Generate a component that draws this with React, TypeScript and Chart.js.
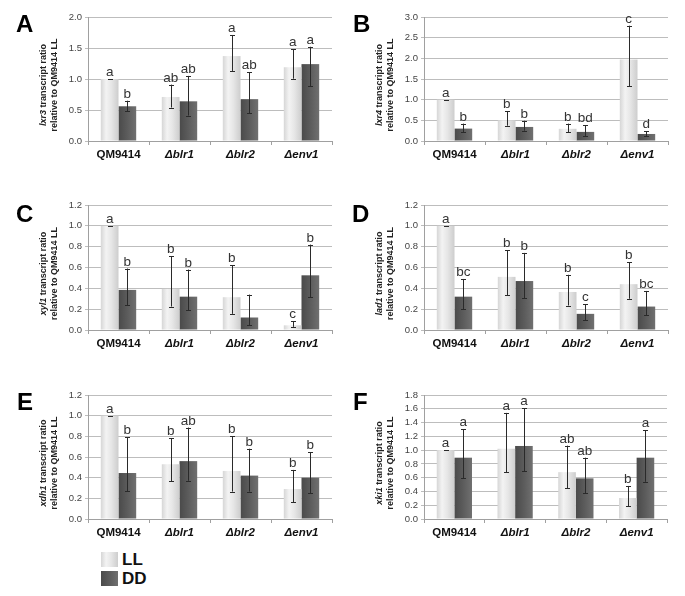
import React, { useEffect, useRef } from 'react';
import { Chart, registerables } from 'chart.js';
Chart.register(...registerables);

const FONT = '"Liberation Sans", Arial, Helvetica, sans-serif';

const categories = ['QM9414', 'Δblr1', 'Δblr2', 'Δenv1'];
const seriesNames = ['LL', 'DD'];

// A: lxr3
const lxr3LL = [1.0, 0.71, 1.37, 1.19];
const lxr3DD = [0.56, 0.64, 0.675, 1.24];
const lxr3LLErr = [[1.0, 1.0], [0.54, 0.91], [1.13, 1.71], [1.005, 1.48]];
const lxr3DDErr = [[0.48, 0.65], [0.41, 1.05], [0.45, 1.11], [0.88, 1.52]];
const lxr3LLSig = ['a', 'ab', 'a', 'a'];
const lxr3DDSig = ['b', 'ab', 'ab', 'a'];

// B: lxr4
const lxr4LL = [1.0, 0.5, 0.295, 1.97];
const lxr4DD = [0.3, 0.34, 0.22, 0.17];
const lxr4LLErr = [[1.0, 1.0], [0.37, 0.72], [0.21, 0.42], [1.33, 2.79]];
const lxr4DDErr = [[0.21, 0.42], [0.25, 0.49], [0.11, 0.38], [0.11, 0.23]];
const lxr4LLSig = ['a', 'b', 'b', 'c'];
const lxr4DDSig = ['b', 'b', 'bd', 'd'];

// C: xyl1
const xyl1LL = [1.0, 0.395, 0.315, 0.045];
const xyl1DD = [0.385, 0.32, 0.12, 0.525];
const xyl1LLErr = [[1.0, 1.0], [0.225, 0.71], [0.155, 0.62], [0.03, 0.085]];
const xyl1DDErr = [[0.24, 0.59], [0.19, 0.58], [0.045, 0.34], [0.315, 0.82]];
const xyl1LLSig = ['a', 'b', 'b', 'c'];
const xyl1DDSig = ['b', 'b', '', 'b'];

// D: lad1
const lad1LL = [1.0, 0.51, 0.365, 0.44];
const lad1DD = [0.32, 0.47, 0.155, 0.225];
const lad1LLErr = [[1.0, 1.0], [0.335, 0.765], [0.235, 0.53], [0.3, 0.65]];
const lad1DDErr = [[0.2, 0.49], [0.305, 0.74], [0.095, 0.245], [0.14, 0.375]];
const lad1LLSig = ['a', 'b', 'b', 'b'];
const lad1DDSig = ['bc', 'b', 'c', 'bc'];

// E: xdh1
const xdh1LL = [1.0, 0.53, 0.465, 0.29];
const xdh1DD = [0.445, 0.56, 0.42, 0.4];
const xdh1LLErr = [[1.0, 1.0], [0.365, 0.78], [0.265, 0.8], [0.16, 0.475]];
const xdh1DDErr = [[0.27, 0.79], [0.37, 0.885], [0.265, 0.68], [0.25, 0.645]];
const xdh1LLSig = ['a', 'b', 'b', 'b'];
const xdh1DDSig = ['b', 'ab', 'b', 'b'];

// F: xki1
const xki1LL = [1.0, 1.02, 0.68, 0.305];
const xki1DD = [0.89, 1.06, 0.59, 0.89];
const xki1LLErr = [[1.0, 1.0], [0.68, 1.54], [0.45, 1.065], [0.185, 0.48]];
const xki1DDErr = [[0.595, 1.3], [0.69, 1.61], [0.375, 0.89], [0.54, 1.29]];
const xki1LLSig = ['a', 'a', 'ab', 'b'];
const xki1DDSig = ['a', 'a', 'ab', 'a'];

const panels = [
  { letter: 'A', gene: 'lxr3', max: 2.0, step: 0.5, ll: lxr3LL, dd: lxr3DD, llErr: lxr3LLErr, ddErr: lxr3DDErr, llSig: lxr3LLSig, ddSig: lxr3DDSig },
  { letter: 'B', gene: 'lxr4', max: 3.0, step: 0.5, ll: lxr4LL, dd: lxr4DD, llErr: lxr4LLErr, ddErr: lxr4DDErr, llSig: lxr4LLSig, ddSig: lxr4DDSig },
  { letter: 'C', gene: 'xyl1', max: 1.2, step: 0.2, ll: xyl1LL, dd: xyl1DD, llErr: xyl1LLErr, ddErr: xyl1DDErr, llSig: xyl1LLSig, ddSig: xyl1DDSig },
  { letter: 'D', gene: 'lad1', max: 1.2, step: 0.2, ll: lad1LL, dd: lad1DD, llErr: lad1LLErr, ddErr: lad1DDErr, llSig: lad1LLSig, ddSig: lad1DDSig },
  { letter: 'E', gene: 'xdh1', max: 1.2, step: 0.2, ll: xdh1LL, dd: xdh1DD, llErr: xdh1LLErr, ddErr: xdh1DDErr, llSig: xdh1LLSig, ddSig: xdh1DDSig },
  { letter: 'F', gene: 'xki1', max: 1.8, step: 0.2, ll: xki1LL, dd: xki1DD, llErr: xki1LLErr, ddErr: xki1DDErr, llSig: xki1LLSig, ddSig: xki1DDSig },
];

// layout (canvas box and plot area, canvas-relative)
const layouts = [
  { left: 0, top: 0, w: 340, h: 175, l: 88, r: 332, t: 17, b: 141, lx: 16, ly: 32 },
  { left: 340, top: 0, w: 345, h: 175, l: 84, r: 328, t: 17, b: 141, lx: 13, ly: 32 },
  { left: 0, top: 185, w: 340, h: 175, l: 88, r: 332, t: 20, b: 145, lx: 16, ly: 37 },
  { left: 340, top: 185, w: 345, h: 175, l: 84, r: 328, t: 20, b: 145, lx: 12, ly: 37 },
  { left: 0, top: 375, w: 340, h: 170, l: 88, r: 332, t: 20, b: 144, lx: 17, ly: 35 },
  { left: 340, top: 375, w: 345, h: 170, l: 84, r: 327, t: 20, b: 144, lx: 13, ly: 35 },
];

const LL_STOPS: [number, string][] = [[0, '#d6d6d6'], [0.3, '#f3f3f3'], [0.6, '#e6e6e6'], [1, '#cdcdcd']];
const DD_STOPS: [number, string][] = [[0, '#4a4a4a'], [0.5, '#5c5c5c'], [1, '#707070']];

function Panel({ idx }: { idx: number }) {
  const ref = useRef<HTMLCanvasElement | null>(null);
  const p = panels[idx];
  const L = layouts[idx];
  useEffect(() => {
    if (!ref.current) return;
    const errs = [p.llErr, p.ddErr];
    const sigs = [p.llSig, p.ddSig];
    const overlay = {
      id: 'overlay',
      afterDatasetDraw(chart: any, args: any) {
        const meta = chart.getDatasetMeta(args.index);
        const ctx = chart.ctx;
        const stops = args.index === 0 ? LL_STOPS : DD_STOPS;
        meta.data.forEach((bar: any) => {
          const { x, y, base, width } = bar.getProps(['x', 'y', 'base', 'width'], true);
          const g = ctx.createLinearGradient(x - width / 2, 0, x + width / 2, 0);
          stops.forEach(([o, c]) => g.addColorStop(o, c));
          ctx.save();
          ctx.fillStyle = g;
          ctx.fillRect(x - width / 2, Math.min(y, base), width, Math.abs(base - y));
          ctx.restore();
        });
      },
      afterDatasetsDraw(chart: any) {
        const ctx = chart.ctx;
        const ys = chart.scales.y;
        ctx.save();
        for (let d = 0; d < 2; d++) {
          const meta = chart.getDatasetMeta(d);
          meta.data.forEach((bar: any, i: number) => {
            const { x } = bar.getProps(['x'], true);
            const [lo, hi] = errs[d][i];
            const yl = ys.getPixelForValue(lo);
            const yh = ys.getPixelForValue(hi);
            ctx.strokeStyle = '#2a2a2a';
            ctx.lineWidth = 1;
            const xx = Math.round(x) + 0.5;
            ctx.beginPath();
            ctx.moveTo(xx, yl);
            ctx.lineTo(xx, yh);
            ctx.moveTo(xx - 2.5, Math.round(yh) + 0.5);
            ctx.lineTo(xx + 2.5, Math.round(yh) + 0.5);
            ctx.moveTo(xx - 2.5, Math.round(yl) + 0.5);
            ctx.lineTo(xx + 2.5, Math.round(yl) + 0.5);
            ctx.stroke();
            const s = sigs[d][i];
            if (s) {
              ctx.fillStyle = '#333';
              ctx.font = `13.5px ${FONT}`;
              ctx.textAlign = 'center';
              ctx.textBaseline = 'alphabetic';
              ctx.fillText(s, x, yh - 3);
            }
          });
        }
        ctx.restore();
      },
      afterDraw(chart: any) {
        const ctx = chart.ctx;
        const area = chart.chartArea;
        ctx.save();
        // panel letter
        ctx.fillStyle = '#000';
        ctx.font = `bold 24px ${FONT}`;
        ctx.textAlign = 'left';
        ctx.textBaseline = 'alphabetic';
        ctx.fillText(p.letter, L.lx, L.ly);
        // y title
        const cy = (area.top + area.bottom) / 2 + 6;
        ctx.fillStyle = '#222';
        ctx.translate(area.left - 44, cy);
        ctx.rotate(-Math.PI / 2);
        ctx.textBaseline = 'middle';
        const fIt = `italic bold 9px ${FONT}`;
        const fB = `bold 9px ${FONT}`;
        ctx.font = fIt;
        const w1 = ctx.measureText(p.gene).width;
        ctx.font = fB;
        const rest = ' transcript ratio';
        const w2 = ctx.measureText(rest).width;
        const start = -(w1 + w2) / 2;
        ctx.textAlign = 'left';
        ctx.font = fIt;
        ctx.fillText(p.gene, start, 0);
        ctx.font = fB;
        ctx.fillText(rest, start + w1, 0);
        ctx.textAlign = 'center';
        ctx.fillText('relative to QM9414 LL', 0, 11);
        ctx.restore();
      },
    };
    const chart = new Chart(ref.current, {
      type: 'bar',
      data: {
        labels: categories,
        datasets: [
          { label: seriesNames[0], data: p.ll, backgroundColor: 'rgba(0,0,0,0)', borderWidth: 0, categoryPercentage: 0.58, barPercentage: 1 },
          { label: seriesNames[1], data: p.dd, backgroundColor: 'rgba(0,0,0,0)', borderWidth: 0, categoryPercentage: 0.58, barPercentage: 1 },
        ],
      },
      options: {
        animation: false,
        responsive: false,
        devicePixelRatio: 1,
        layout: { padding: { left: 0, right: L.w - L.r, top: L.t, bottom: 0 } },
        plugins: { legend: { display: false }, tooltip: { enabled: false } },
        scales: {
          x: {
            type: 'category',
            grid: { display: true, drawOnChartArea: false, drawTicks: true, tickLength: 4, color: '#a0a0a0', offset: true },
            border: { display: true, color: '#a0a0a0' },
            ticks: {
              color: '#111',
              padding: 3,
              maxRotation: 0,
              autoSkip: false,
              font: (c: any) => ({ family: FONT, size: 11.5, weight: 'bold', style: c.index === 0 ? 'normal' : 'italic' }),
            },
            afterFit: (s: any) => { s.height = L.h - L.b; },
          },
          y: {
            min: 0,
            max: p.max,
            ticks: {
              stepSize: p.step,
              autoSkip: false,
              color: '#444',
              padding: 3,
              font: { family: FONT, size: 9.5 },
              callback: (v: any) => Number(v).toFixed(1),
            },
            grid: { color: '#bdbdbd', tickLength: 3, drawTicks: true },
            border: { display: true, color: '#a0a0a0' },
            afterFit: (s: any) => { s.width = L.l; },
          },
        },
      } as any,
      plugins: [overlay],
    });
    return () => chart.destroy();
  }, []);
  return (
    <canvas
      ref={ref}
      width={L.w}
      height={L.h}
      style={{ position: 'absolute', left: L.left, top: L.top, width: L.w, height: L.h }}
    />
  );
}

export default function App() {
  const sq = (grad: string, top: number) => (
    <div style={{ position: 'absolute', left: 101, top, width: 17, height: 15, background: grad }} />
  );
  const lab = (t: string, top: number) => (
    <div style={{ position: 'absolute', left: 122, top, fontFamily: FONT, fontWeight: 'bold', fontSize: 17, lineHeight: '17px', color: '#111' }}>{t}</div>
  );
  return (
    <div style={{ position: 'absolute', left: 0, top: 0, width: 685, height: 596, background: '#fff', overflow: 'hidden' }}>
      {panels.map((_, i) => <Panel key={i} idx={i} />)}
      {sq('linear-gradient(to right, #d6d6d6, #f3f3f3 30%, #e6e6e6 60%, #cdcdcd)', 552)}
      {sq('linear-gradient(to right, #4a4a4a, #5c5c5c 50%, #707070)', 571)}
      {lab(seriesNames[0], 551)}
      {lab(seriesNames[1], 570)}
    </div>
  );
}
